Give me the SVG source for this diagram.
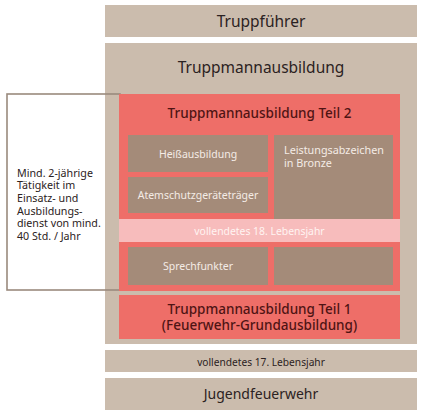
<svg xmlns="http://www.w3.org/2000/svg" width="423" height="416" viewBox="0 0 423 416">
<style>
.beige{fill:#cbbcad}
.red{fill:#ee6e68}
.brown{fill:#a48b79}
.pink{fill:#f7bcbc}
text{font-family:"Noto Sans","Open Sans",sans-serif;text-anchor:middle;dominant-baseline:central}
.t1{font-size:15.5px;fill:#2b2222}
.t2{font-size:13.5px;fill:#4e1414;font-weight:500}
.w{font-size:10.5px;fill:#f4ece6}
.dk{font-size:10.2px;fill:#2b2222}
.side{font-size:10.7px;fill:#2b2222;text-anchor:start}
</style>
<rect width="423" height="416" fill="#ffffff"/>
<g id="truppfuehrer"><rect class="beige" x="105" y="5" width="312" height="32"/><text class="t1" x="261" y="21">Truppführer</text></g>
<g id="truppmannausbildung"><rect class="beige" x="105" y="43" width="312" height="301"/><text class="t1" x="261" y="67">Truppmannausbildung</text></g>
<g id="taetigkeit"><rect x="7" y="94" width="113" height="196" fill="none" stroke="#9a8a7d" stroke-width="1.6"/>
<text class="side" x="17" y="172.7">Mind. 2-jährige</text>
<text class="side" x="17" y="185.3">Tätigkeit im</text>
<text class="side" x="17" y="197.9">Einsatz- und</text>
<text class="side" x="17" y="210.5">Ausbildungs-</text>
<text class="side" x="17" y="223.1">dienst von mind.</text>
<text class="side" x="17" y="235.7">40 Std. / Jahr</text></g>
<g id="teil2"><rect class="red" x="119" y="94" width="281" height="197"/><text class="t2" x="259.5" y="113">Truppmannausbildung Teil 2</text></g>
<g id="heiss"><rect class="brown" x="128" y="135" width="140" height="37"/><text class="w" x="198" y="153.5">Heißausbildung</text></g>
<g id="atemschutz"><rect class="brown" x="128" y="177" width="140" height="36"/><text class="w" x="198" y="195">Atemschutzgeräteträger</text></g>
<g id="leistung"><rect class="brown" x="274" y="135" width="119" height="84"/><text class="w" style="text-anchor:start;font-size:10.8px" x="284" y="149">Leistungsabzeichen</text><text class="w" style="text-anchor:start;font-size:10.8px" x="284" y="162.5">in Bronze</text></g>
<g id="lebensjahr18"><rect class="pink" x="119" y="219" width="281" height="23"/><text class="w" style="font-size:10.4px;fill:#fff4f2" x="259.5" y="231">vollendetes 18. Lebensjahr</text></g>
<g id="sprechfunk"><rect class="brown" x="128" y="247" width="140" height="38"/><text class="w" x="198" y="266">Sprechfunkter</text></g>
<g id="leer"><rect class="brown" x="274" y="247" width="119" height="38"/></g>
<g id="teil1"><rect class="red" x="119" y="295" width="281" height="44"/><text class="t2" x="259.5" y="308.5">Truppmannausbildung Teil 1</text><text class="t2" x="259.5" y="325">(Feuerwehr-Grundausbildung)</text></g>
<g id="lebensjahr17"><rect class="beige" x="105" y="350" width="312" height="22"/><text class="dk" x="261" y="361.5">vollendetes 17. Lebensjahr</text></g>
<g id="jugend"><rect class="beige" x="105" y="378" width="312" height="32"/><text class="t1" style="font-size:14px" x="261" y="393.5">Jugendfeuerwehr</text></g>
<g id="connectors"></g>
</svg>
